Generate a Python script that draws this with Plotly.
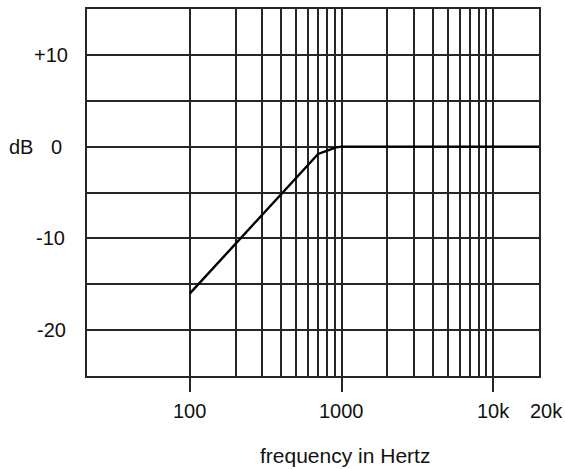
import numpy as np
import plotly.graph_objects as go

# ---- data ----
freq_hz = [100, 700, 830, 920, 1000, 20000]
gain_db = [-16, -0.8, -0.35, -0.08, 0, 0]

y_tick_vals = [10, 0, -10, -20]
y_tick_text = ["+10", "0", "-10", "-20"]
x_label_vals = [100, 1000, 10000, 20000]
x_label_text = ["100", "1000", "10k", "20k"]
x_grid_vals = [100 * k for k in range(1, 10)] + [1000 * k for k in range(1, 11)]
y_grid_vals = list(range(-25, 16, 5))

W, H = 565, 469
L, R, T, B = 87, 26, 7, 93
pw = W - L - R
ink = "#262626"
font = "Liberation Sans, Arial, sans-serif"

fig = go.Figure()
fig.add_trace(go.Scatter(x=freq_hz, y=gain_db, mode="lines",
                         line=dict(color="#000000", width=2.4), hoverinfo="skip"))

xr = [np.log10(20000) - pw / 151.7, np.log10(20000)]

fig.update_layout(
    width=W, height=H, margin=dict(l=L, r=R, t=T, b=B, pad=0),
    paper_bgcolor="white", plot_bgcolor="white", showlegend=False,
    font=dict(family=font, size=20, color="#111111"),
    xaxis=dict(type="log", range=xr, tickmode="array", tickvals=[100, 1000, 10000],
               showticklabels=False, ticks="outside", ticklen=14, tickwidth=2,
               tickcolor=ink, showgrid=False, zeroline=False,
               showline=True, mirror=True, linecolor=ink, linewidth=2,
               minor=dict(tickmode="array", tickvals=x_grid_vals, showgrid=True,
                          gridcolor=ink, gridwidth=2, ticks="")),
    yaxis=dict(range=[-25, 15], tickmode="array", tickvals=y_grid_vals,
               showticklabels=False, ticks="", showgrid=True, gridcolor=ink,
               gridwidth=2, zeroline=False, showline=True, mirror=True,
               linecolor=ink, linewidth=2),
)

anns = []
right_px = {"+10": 70, "0": 64, "-10": 67, "-20": 68}
for v, t in zip(y_tick_vals, y_tick_text):
    anns.append(dict(x=(right_px[t] - L) / pw, xref="paper", y=v, yref="y",
                     text=t, showarrow=False, xanchor="right", yanchor="middle"))
anns.append(dict(x=(21 - L) / pw, xref="paper", y=0, yref="y", text="dB",
                 showarrow=False, xanchor="center", yanchor="middle"))
for v, t in zip(x_label_vals, x_label_text):
    anns.append(dict(x=np.log10(v), xref="x", y=0, yref="paper", yshift=-35,
                     xshift=7 if t == "20k" else 0,
                     text=t, showarrow=False, xanchor="center", yanchor="middle"))
anns.append(dict(x=(345 - L) / pw, xref="paper", y=0, yref="paper", yshift=-79,
                 text="frequency in Hertz", font=dict(size=21), showarrow=False,
                 xanchor="center", yanchor="middle"))
fig.update_layout(annotations=anns)

fig.write_html("out.html", config={"displayModeBar": False, "staticPlot": True},
               post_script="document.body.style.margin='0px';document.body.style.overflow='hidden';")
